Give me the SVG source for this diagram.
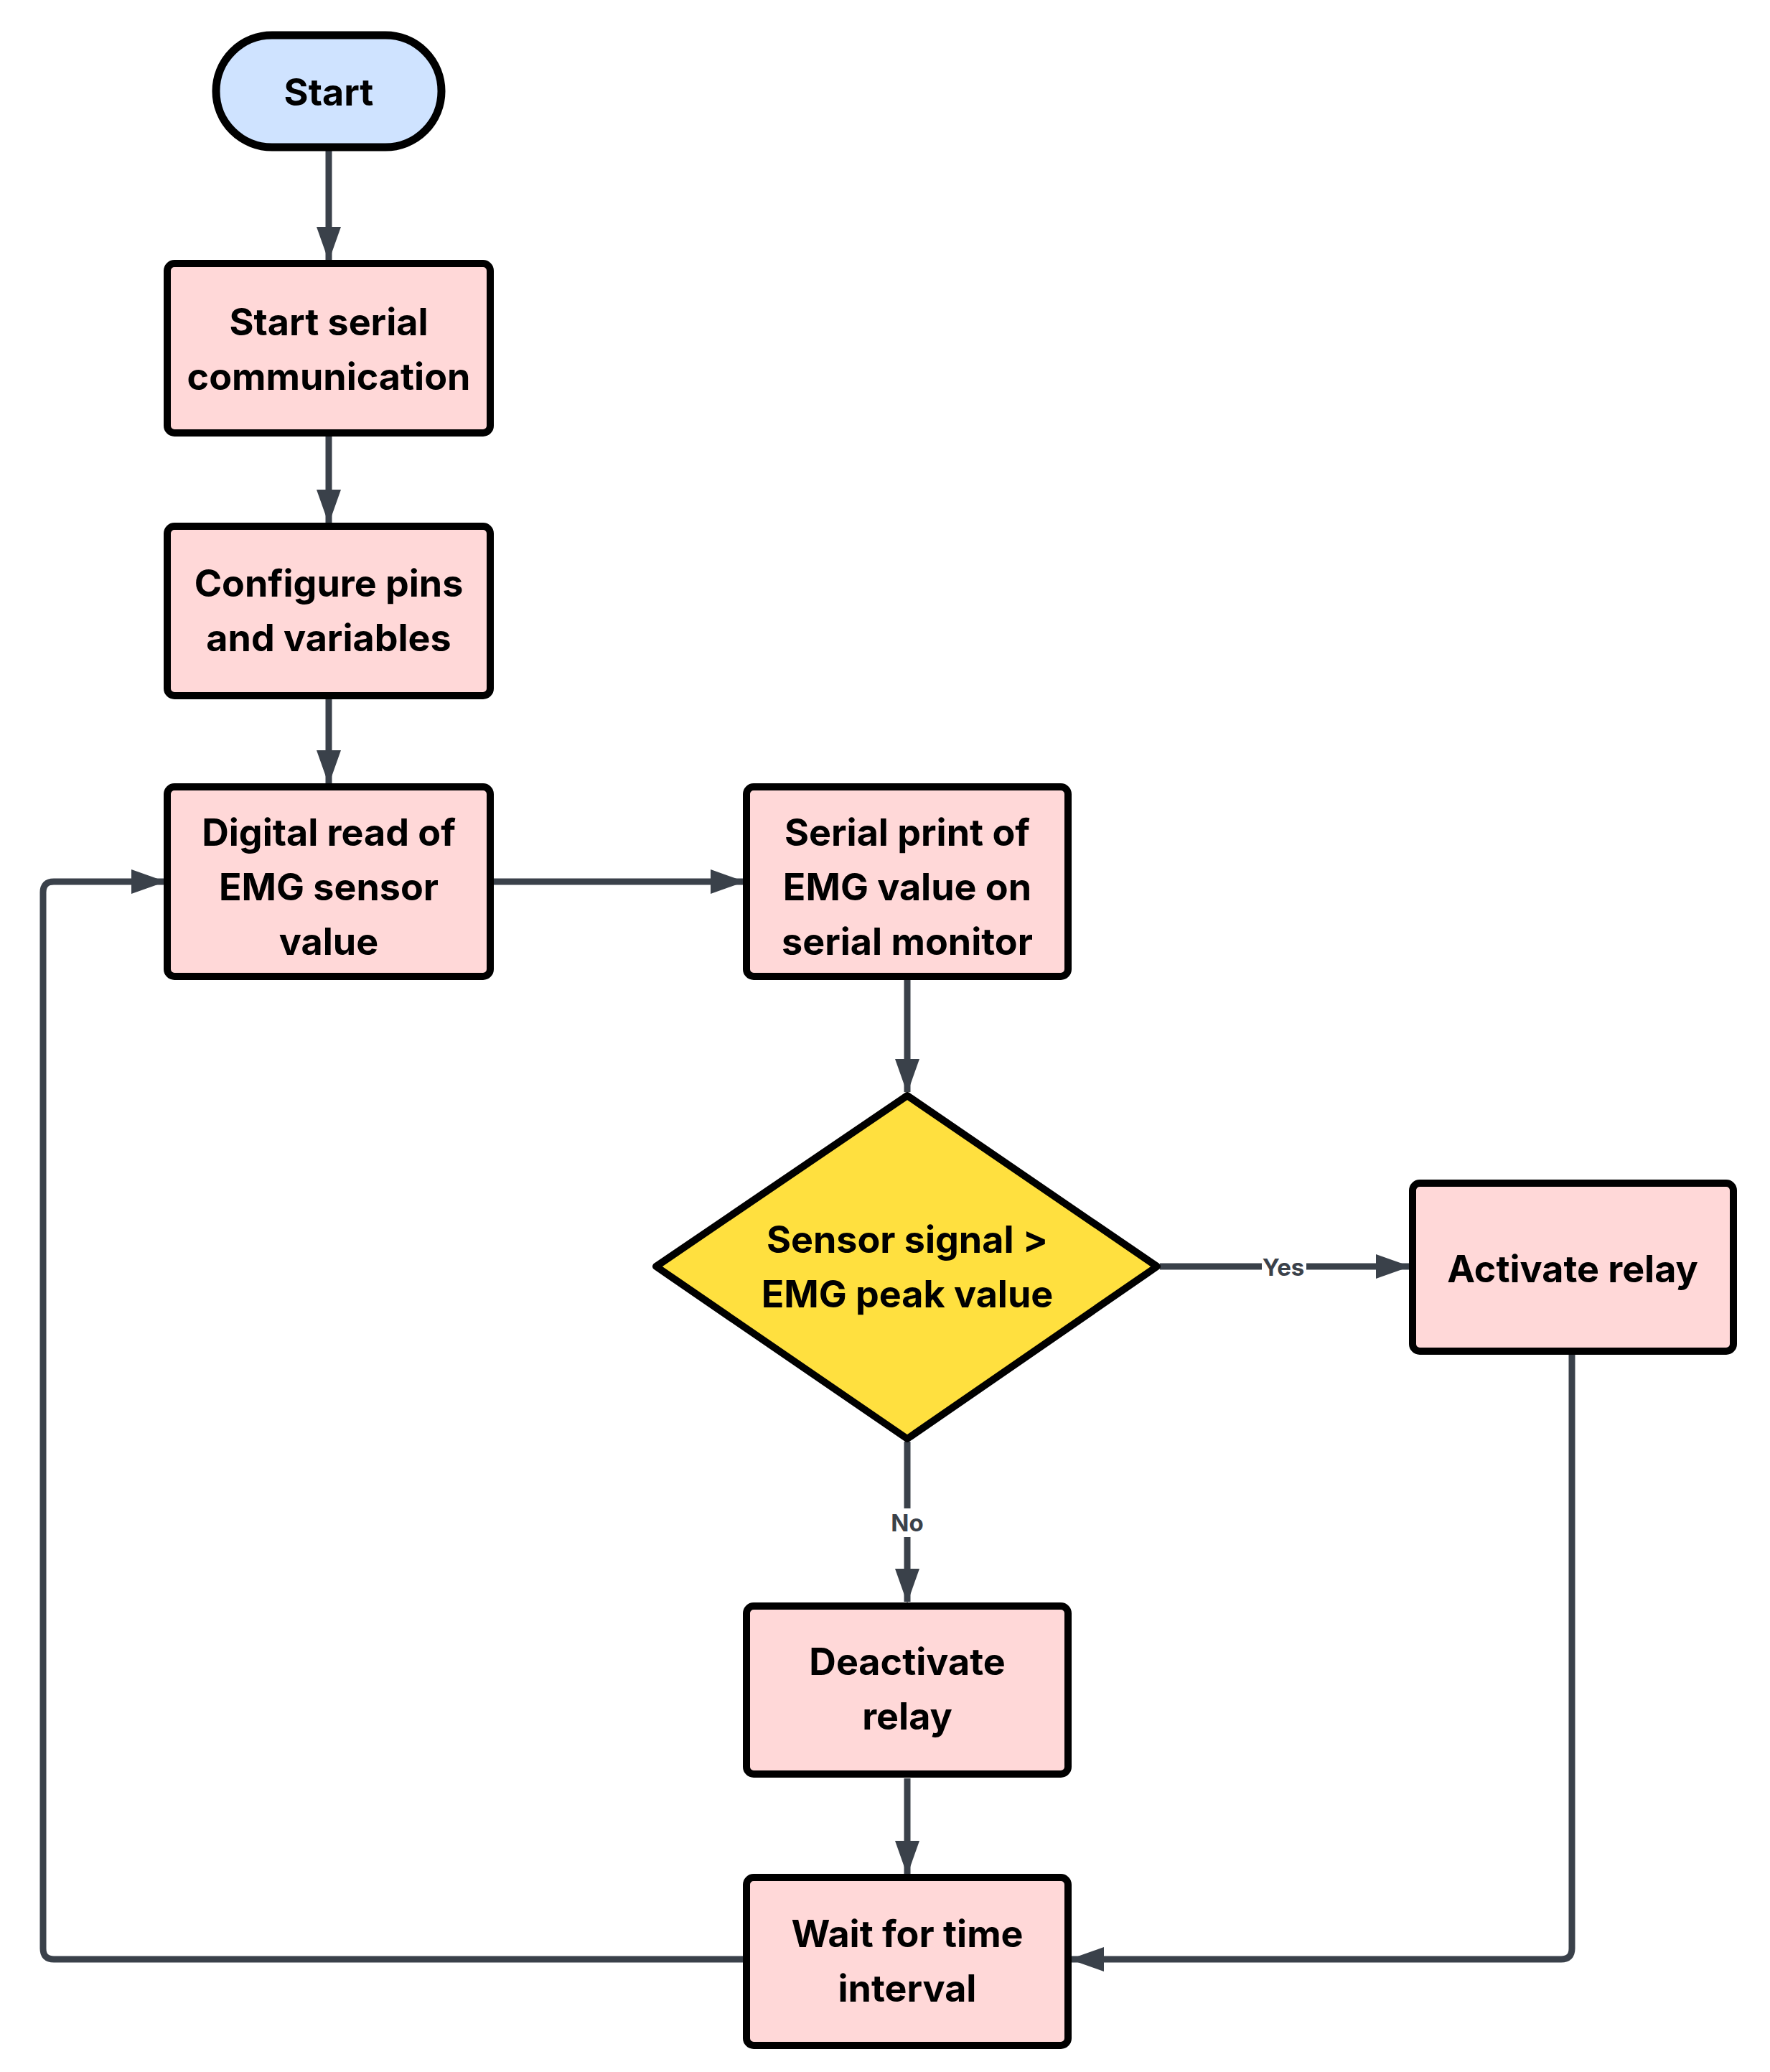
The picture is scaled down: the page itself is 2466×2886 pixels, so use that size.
<svg xmlns="http://www.w3.org/2000/svg" width="2466" height="2886" viewBox="0 0 2466 2886">
<style>
.box{fill:#FFD8D8;stroke:#000;stroke-width:10}
.term{fill:#CFE3FF;stroke:#000;stroke-width:11}
.dec{fill:#FFE03F;stroke:#000;stroke-width:10;stroke-linejoin:round}
.t{font-family:Inter,"Liberation Sans",sans-serif;font-weight:700;font-size:52px;fill:#000;text-anchor:middle;dominant-baseline:central}
.c{fill:none;stroke:#3A414A;stroke-width:9;stroke-linejoin:round}
.lbl{font-family:Inter,"Liberation Sans",sans-serif;font-weight:700;font-size:33px;fill:#3A414A;text-anchor:middle;dominant-baseline:central}
</style>
<defs>
<marker id="ah" markerUnits="userSpaceOnUse" markerWidth="48" markerHeight="34" refX="46" refY="17" orient="auto">
<path d="M0,0 L48,17 L0,34 Z" fill="#3A414A"/>
</marker>
</defs>
<rect width="2466" height="2886" fill="#fff"/>
<g id="connectors">
<path class="c" d="M458,210 V362" marker-end="url(#ah)"/>
<path class="c" d="M458,606 V728" marker-end="url(#ah)"/>
<path class="c" d="M458,972 V1091" marker-end="url(#ah)"/>
<path class="c" d="M687,1228 H1036" marker-end="url(#ah)"/>
<path class="c" d="M1264,1365 V1521" marker-end="url(#ah)"/>
<path class="c" d="M1616,1764 H1963" marker-end="url(#ah)"/>
<rect x="1758" y="1745" width="62" height="38" fill="#fff"/>
<text class="lbl" x="1788" y="1765">Yes</text>
<path class="c" d="M1264,2008 V2231" marker-end="url(#ah)"/>
<rect x="1234" y="2101" width="60" height="40" fill="#fff"/>
<text class="lbl" x="1264" y="2121">No</text>
<path class="c" d="M1264,2477 V2610" marker-end="url(#ah)"/>
<path class="c" d="M2190,1887 V2714 Q2190,2729 2175,2729 H1492" marker-end="url(#ah)"/>
<path class="c" d="M1036,2729 H75 Q60,2729 60,2714 V1243 Q60,1228 75,1228 H229" marker-end="url(#ah)"/>
</g>
<g id="start">
<rect class="term" x="301" y="49" width="314" height="156" rx="78"/>
<text class="t" x="458" y="128">Start</text>
</g>
<g id="serial-comm">
<rect class="box" x="233" y="367" width="450" height="236" rx="10"/>
<text class="t" x="458" y="448">Start serial</text>
<text class="t" x="458" y="524">communication</text>
</g>
<g id="configure">
<rect class="box" x="233" y="733" width="450" height="236" rx="10"/>
<text class="t" x="458" y="812">Configure pins</text>
<text class="t" x="458" y="888">and variables</text>
</g>
<g id="digital-read">
<rect class="box" x="233" y="1096" width="450" height="264" rx="10"/>
<text class="t" x="458" y="1159">Digital read of</text>
<text class="t" x="458" y="1235">EMG sensor</text>
<text class="t" x="458" y="1311">value</text>
</g>
<g id="serial-print">
<rect class="box" x="1040" y="1096" width="448" height="264" rx="10"/>
<text class="t" x="1264" y="1159">Serial print of</text>
<text class="t" x="1264" y="1235">EMG value on</text>
<text class="t" x="1264" y="1311">serial monitor</text>
</g>
<g id="decision">
<path class="dec" d="M1264,1526 L1612,1764 L1264,2004 L914,1764 Z"/>
<text class="t" x="1264" y="1726">Sensor signal &gt;</text>
<text class="t" x="1264" y="1802">EMG peak value</text>
</g>
<g id="activate">
<rect class="box" x="1968" y="1648" width="447" height="234" rx="10"/>
<text class="t" x="2191" y="1767">Activate relay</text>
</g>
<g id="deactivate">
<rect class="box" x="1040" y="2237" width="448" height="234" rx="10"/>
<text class="t" x="1264" y="2314">Deactivate</text>
<text class="t" x="1264" y="2390">relay</text>
</g>
<g id="wait">
<rect class="box" x="1040" y="2615" width="448" height="234" rx="10"/>
<text class="t" x="1264" y="2693">Wait for time</text>
<text class="t" x="1264" y="2769">interval</text>
</g>
</svg>
